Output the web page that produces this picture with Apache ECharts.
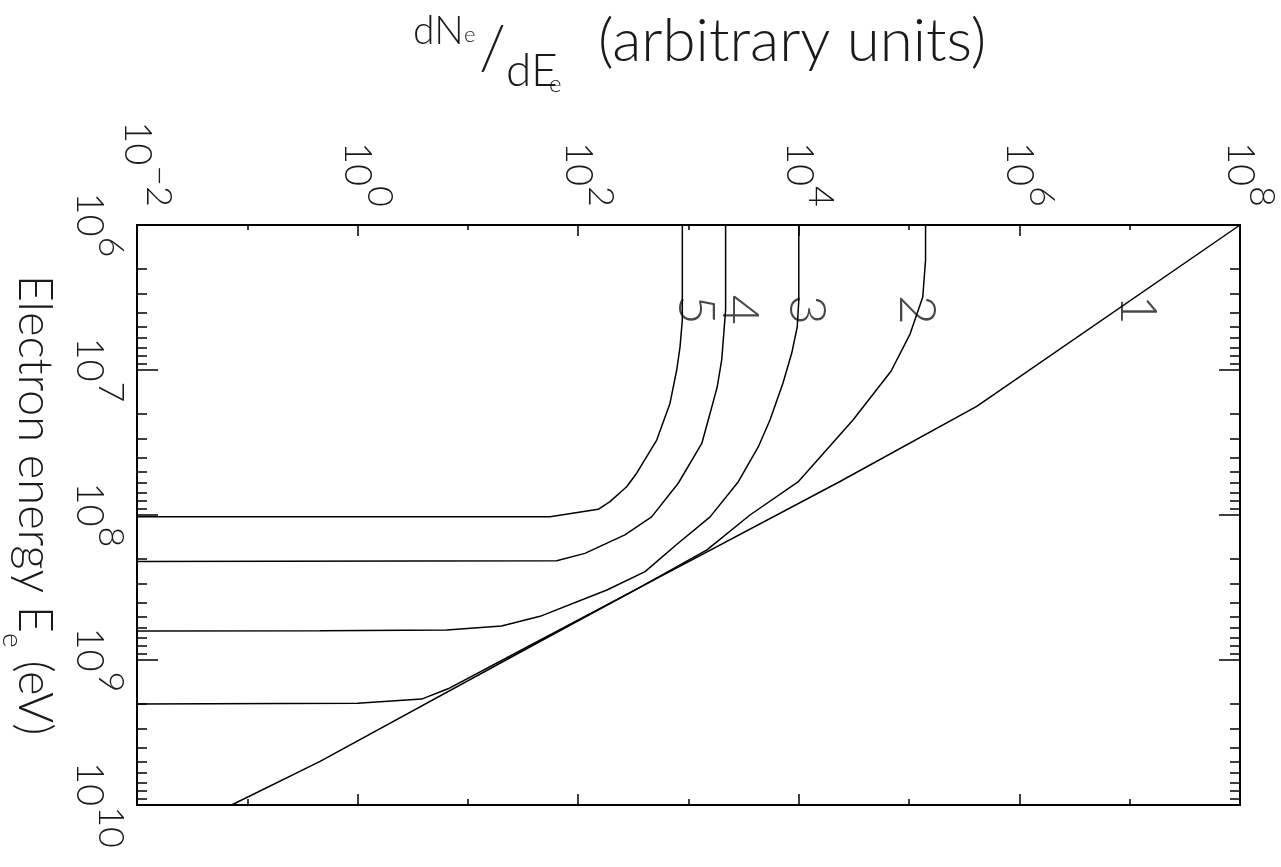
<!DOCTYPE html>
<html>
<head>
<meta charset="utf-8">
<script src="https://cdn.jsdelivr.net/npm/echarts@6/dist/echarts.min.js"></script>
<style>
  html, body { margin: 0; padding: 0; background: #fff; }
  #chart { width: 1281px; height: 867px; }
</style>
</head>
<body>
<div id="chart"></div>
<script>
// each point is [dN/dE, E (eV)]
const curve1 = [[1e8, 1e6], [4.1e5, 1.78e7], [2.34e4, 5.9e7], [363, 3.16e8], [34.7, 8.3e8], [0.457, 5.0e9], [0.072, 1e10]]
const curve2 = [[1.41e5, 1e6], [1.41e5, 1.74e6], [1.33e5, 3.14e6], [1.02e5, 5.65e6], [6.85e4, 1.02e7], [3.1e4, 2.21e7],
    [9.84e3, 5.92e7], [3.61e3, 1e8], [1.47e3, 1.74e8], [355, 3.18e8], [33.1, 8.26e8], [6.6, 1.58e9], [3.81, 1.86e9],
    [1.0, 1.99e9], [0.01, 2.01e9]]
const curve3 = [[1.0e4, 1e6], [1.0e4, 3.29e6], [9.68e3, 5.05e6], [8.63e3, 7.64e6], [7.19e3, 1.23e7], [5.48e3, 2.21e7],
    [4.3e3, 3.38e7], [2.83e3, 5.89e7], [1.57e3, 1.03e8], [771, 1.61e8], [404, 2.46e8], [182, 3.29e8], [45.1, 5.0e8],
    [20.2, 5.83e8], [6.43, 6.21e8], [0.456, 6.28e8], [0.01, 6.31e8]]
const curve4 = [[2.17e3, 1e6], [2.17e3, 3.85e6], [2.0e3, 8.53e6], [1.82e3, 1.31e7], [1.66e3, 1.7e7], [1.51e3, 2.21e7],
    [1.32e3, 3.21e7], [807, 6.04e7], [463, 1.03e8], [265, 1.37e8], [115, 1.84e8], [63.8, 2.07e8], [0.01, 2.09e8]]
const curve5 = [[879, 1e6], [879, 4.52e6], [838, 6.93e6], [782, 1e7], [679, 1.7e7], [515, 3.04e7], [339, 5.15e7],
    [275, 6.38e7], [194, 8.09e7], [152, 9.14e7], [55.5, 1.03e8], [0.01, 1.03e8]]

const curveNames = ['1', '2', '3', '4', '5']
const curveLabelPos = [[1.19e7, 3.85e6], [1.18e5, 3.85e6], [1.19e4, 3.85e6], [2.93e3, 3.85e6], [1.17e3, 3.85e6]]

const xMajor = [1e-2, 1, 1e2, 1e4, 1e6, 1e8]
const xMinor = [1e-1, 1e1, 1e3, 1e5, 1e7]
const xExp = ['\u22122', '0', '2', '4', '6', '8']
const yMajor = [1e6, 1e7, 1e8, 1e9, 1e10]
const yExp = ['6', '7', '8', '9', '10']

// log minor ticks 2..9 inside each decade of the energy axis
const yMinor = []
for (let d = 6; d < 10; d++) {
    for (let k = 2; k <= 9; k++) yMinor.push(k * Math.pow(10, d))
}

const font = 'Lato'
const weight = 300
const ink = '#1a1a1a'

// base "10" padded down, exponent padded up -> superscript; after the turn it sits to the right
const expRich = {
    b: { fontFamily: font, fontWeight: weight, fontSize: 38, height: 40, lineHeight: 62, color: ink, padding: [22, 0, 0, 0] },
    e: { fontFamily: font, fontWeight: weight, fontSize: 36, height: 40, lineHeight: 62, color: ink, padding: [0, 0, 22, 0] },
}

const pickExp = (v, ticks, exps) => {
    const i = ticks.findIndex(t => Math.abs(Math.log10(t) - Math.log10(v)) < 1e-6)
    return '{b|10}{e|' + exps[i] + '}'
}

const xAxisDef = (pos, ticks, len, withLabels) => ({
    type: 'log',
    logBase: 10,
    min: 1e-2,
    max: 1e8,
    position: pos,
    axisLine: { show: true, lineStyle: { color: '#000', width: 2 } },
    axisTick: { show: true, inside: true, length: len, customValues: ticks, lineStyle: { color: '#000', width: 1.5 } },
    axisLabel: withLabels ? {
        show: true,
        customValues: xMajor,
        rotate: 90,
        margin: 18,
        padding: [0, 0, 22, 0],
        showMinLabel: true,
        showMaxLabel: true,
        formatter: v => pickExp(v, xMajor, xExp),
        rich: expRich,
    } : { show: false },
    splitLine: { show: false },
    minorTick: { show: false },
})

const yAxisDef = (pos, ticks, len, withLabels) => ({
    type: 'log',
    logBase: 10,
    min: 1e6,
    max: 1e10,
    inverse: true,
    position: pos,
    axisLine: { show: true, lineStyle: { color: '#000', width: 2 } },
    axisTick: { show: true, inside: true, length: len, customValues: ticks, lineStyle: { color: '#000', width: 1.5 } },
    axisLabel: withLabels ? {
        show: true,
        customValues: yMajor,
        rotate: -90,
        margin: 6,
        showMinLabel: true,
        showMaxLabel: true,
        formatter: v => pickExp(v, yMajor, yExp),
        rich: expRich,
    } : { show: false },
    splitLine: { show: false },
    minorTick: { show: false },
})

const chart = echarts.init(document.getElementById('chart'))

const lineSeries = [curve1, curve2, curve3, curve4, curve5].map((c, i) => ({
    name: curveNames[i],
    type: 'line',
    data: c,
    showSymbol: false,
    symbol: 'none',
    lineStyle: { color: '#000', width: 1.5 },
    clip: true,
}))

const yAxes = [yAxisDef('left', yMajor, 21, true), yAxisDef('left', yMinor, 10, false),
    yAxisDef('right', yMajor, 21, false), yAxisDef('right', yMinor, 10, false)]
yAxes[0].name = '{n|Electron energy E}{s|e}{n| (eV)}'
yAxes[0].nameLocation = 'middle'
yAxes[0].nameRotate = -90
yAxes[0].nameGap = 80
yAxes[0].nameTextStyle = {
    padding: [0, 20, 0, 0],
    rich: {
        n: { fontFamily: font, fontWeight: weight, fontSize: 47, height: 46, lineHeight: 60, color: ink, verticalAlign: 'top' },
        s: { fontFamily: font, fontWeight: weight, fontSize: 28, height: 30, lineHeight: 60, color: ink, verticalAlign: 'bottom' },
    },
}

const titleStyle = size => ({ fontFamily: font, fontWeight: weight, fontSize: size, color: ink })

chart.setOption({
    animation: false,
    backgroundColor: '#fff',
    title: [
        { text: 'dN', left: 413, top: 12, padding: 0, textStyle: titleStyle(39) },
        { text: 'e', left: 464, top: 24, padding: 0, textStyle: titleStyle(22) },
        { text: '/', left: 479, top: 18, padding: 0, textStyle: titleStyle(62) },
        { text: 'dE', left: 506, top: 48, padding: 0, textStyle: titleStyle(46) },
        { text: 'e', left: 549, top: 72, padding: 0, textStyle: titleStyle(24) },
        { text: '(arbitrary units)', left: 598, top: 12, padding: 0, textStyle: titleStyle(60) },
    ],
    grid: { left: 137, right: 41, top: 225, bottom: 62, containLabel: false, outerBoundsMode: 'none' },
    xAxis: [xAxisDef('top', xMajor, 11, true), xAxisDef('top', xMinor, 5, false),
        xAxisDef('bottom', xMajor, 11, false), xAxisDef('bottom', xMinor, 6, false)],
    yAxis: yAxes,
    series: [
        ...lineSeries,
        {
            type: 'scatter',
            data: curveLabelPos.map((p, i) => [p[0], p[1], curveNames[i]]),
            symbolSize: 0,
            silent: true,
            label: {
                show: true,
                position: 'inside',
                rotate: -90,
                formatter: p => p.value[2],
                fontFamily: font,
                fontWeight: weight,
                fontSize: 52,
                color: ink,
            },
        },
    ],
})
</script>
</body>
</html>
